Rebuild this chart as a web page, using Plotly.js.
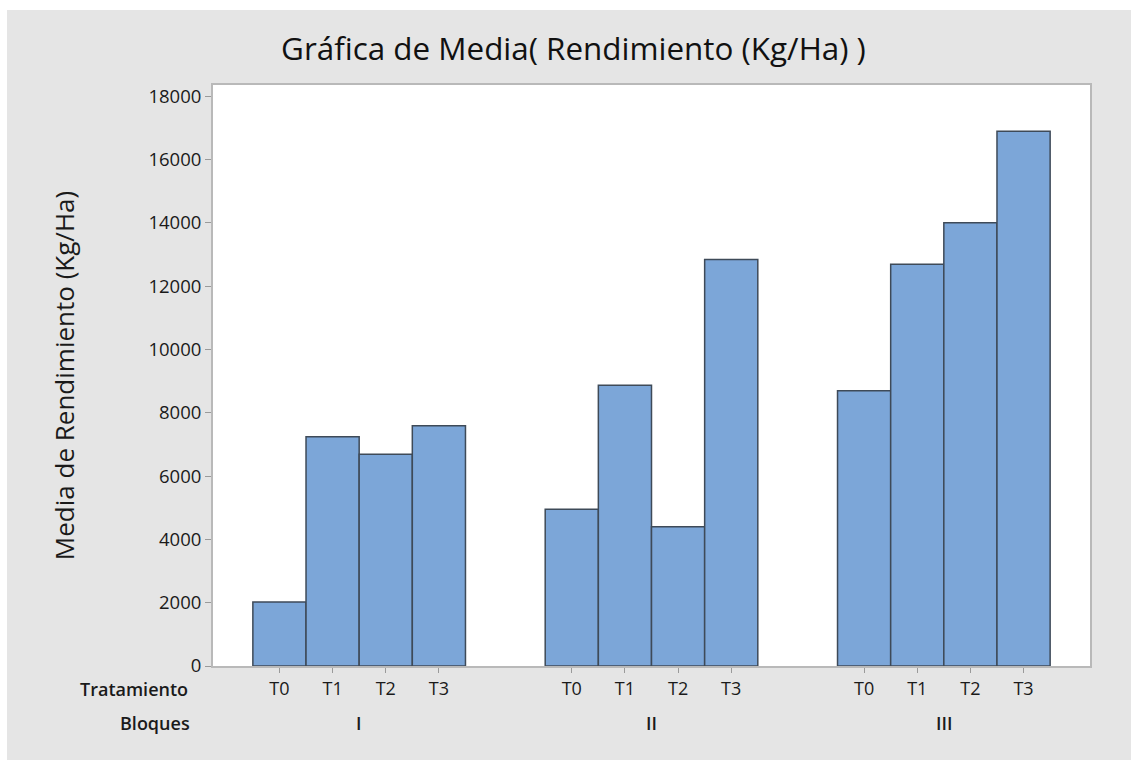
<!DOCTYPE html>
<html>
<head>
<meta charset="utf-8">
<script src="https://cdn.plot.ly/plotly-3.0.1.min.js"></script>
<style>
  html, body { margin: 0; padding: 0; background: #ffffff; }
  #chart { position: absolute; left: 7px; top: 10px; width: 1124px; height: 750px; }
</style>
</head>
<body>
<div id="chart"></div>
<script>
// ---- Data ----
const tratamientos = ['T0', 'T1', 'T2', 'T3'];
const bloques = ['I', 'II', 'III'];
const valoresBloqueI   = [2020, 7240, 6690, 7590];
const valoresBloqueII  = [4950, 8870, 4400, 12840];
const valoresBloqueIII = [8690, 12690, 14000, 16890];
const yTicks = [0, 2000, 4000, 6000, 8000, 10000, 12000, 14000, 16000, 18000];
const yTickLabels = ['0', '2000', '4000', '6000', '8000', '10000', '12000', '14000', '16000', '18000'];

const seriesPorBloque = [valoresBloqueI, valoresBloqueII, valoresBloqueIII];
const groupStep = 5.5; // spacing between block groups (in bar units)

const xs = [], ys = [], tickvals = [], ticktext = [];
seriesPorBloque.forEach((vals, b) => {
  vals.forEach((v, t) => {
    const pos = b * groupStep + t;
    xs.push(pos); ys.push(v);
    tickvals.push(pos); ticktext.push(tratamientos[t]);
  });
});

const font = 'Open Sans, Noto Sans, DejaVu Sans, sans-serif';
const textColor = '#1a1a1a';

const trace = {
  type: 'bar',
  x: xs,
  y: ys,
  width: 1,
  marker: { color: '#7ca6d8', line: { color: '#3e4a58', width: 1.5 } },
  hoverinfo: 'x+y'
};

const annotations = [];
bloques.forEach((name, b) => {
  annotations.push({
    text: name, xref: 'x', yref: 'paper',
    x: b * groupStep + (tratamientos.length - 1) / 2, y: 0,
    yshift: -57, yanchor: 'middle', xanchor: 'center', showarrow: false,
    font: { family: font, size: 18, color: textColor, weight: 600 }
  });
});
annotations.push({
  text: 'Tratamiento', xref: 'paper', yref: 'paper', x: 0, y: 0,
  xshift: -23, yshift: -23, xanchor: 'right', yanchor: 'middle', showarrow: false,
  font: { family: font, size: 18, color: textColor, weight: 600 }
});
annotations.push({
  text: 'Bloques', xref: 'paper', yref: 'paper', x: 0, y: 0,
  xshift: -21, yshift: -57, xanchor: 'right', yanchor: 'middle', showarrow: false,
  font: { family: font, size: 18, color: textColor, weight: 600 }
});

const layout = {
  width: 1124, height: 750,
  paper_bgcolor: '#e5e5e5',
  plot_bgcolor: '#ffffff',
  margin: { l: 206, r: 41, t: 75, b: 94 },
  showlegend: false,
  title: {
    text: 'Gráfica de Media( Rendimiento (Kg/Ha) )',
    xref: 'container', x: 0.504, xanchor: 'center',
    yref: 'container', y: 0.948, yanchor: 'middle',
    font: { family: font, size: 31.4, color: '#111111' }
  },
  xaxis: {
    range: [-1.25, 15.25],
    tickmode: 'array', tickvals: tickvals, ticktext: ticktext,
    ticks: 'outside', ticklen: 5, tickwidth: 1, tickcolor: '#9a9a9a',
    tickfont: { family: font, size: 18, color: textColor },
    showgrid: false, zeroline: false,
    showline: true, linecolor: '#b9b9b9', linewidth: 2, mirror: true
  },
  yaxis: {
    range: [0, 18350],
    tickmode: 'array', tickvals: yTicks, ticktext: yTickLabels,
    ticks: 'outside', ticklen: 6, tickwidth: 1, tickcolor: '#9a9a9a',
    tickfont: { family: font, size: 18.5, color: textColor },
    showgrid: false, zeroline: false,
    showline: true, linecolor: '#b9b9b9', linewidth: 2, mirror: true,
    title: {
      text: 'Media de Rendimiento (Kg/Ha)', standoff: 66,
      font: { family: font, size: 26, color: textColor }
    }
  },
  annotations: annotations
};

Plotly.newPlot('chart', [trace], layout, { displayModeBar: false, staticPlot: true });
</script>
</body>
</html>
